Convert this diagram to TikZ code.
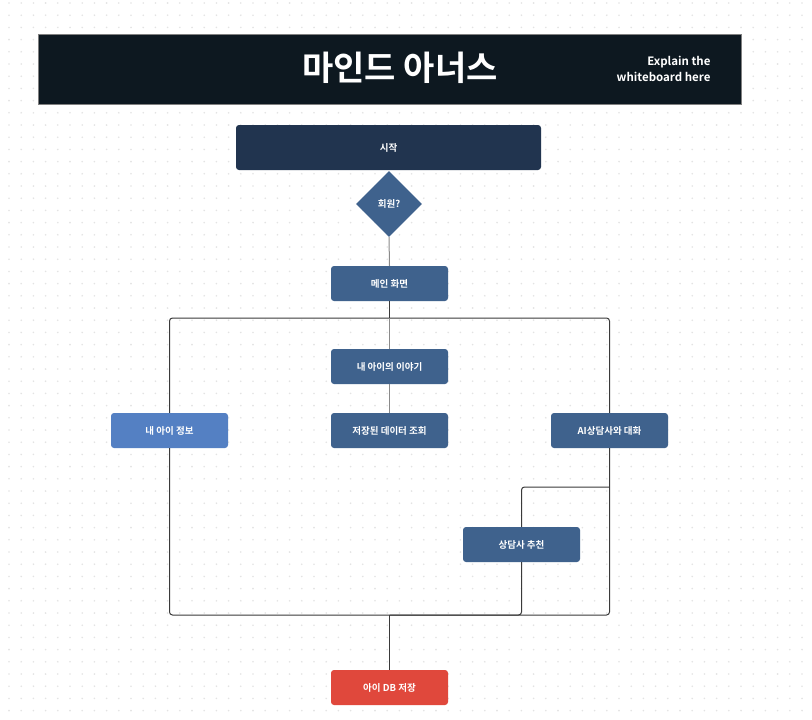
\documentclass[tikz,border=0pt]{standalone}
\usepackage{fontspec}
\setmainfont{Noto Sans CJK KR}[BoldFont={Noto Sans CJK KR Bold}]
\usetikzlibrary{shapes.geometric}
\definecolor{hdr}{HTML}{0D1820}
\definecolor{startc}{HTML}{21344F}
\definecolor{bluec}{HTML}{3F628D}
\definecolor{lightb}{HTML}{5480C3}
\definecolor{redc}{HTML}{E0483C}
\definecolor{dotc}{HTML}{E3E3E3}
\definecolor{linec}{HTML}{3A3A3A}
\definecolor{greyl}{HTML}{8A8A8A}
\tikzset{
  boxn/.style={rectangle, rounded corners=3pt, minimum width=117pt, minimum height=35pt,
    text=white, font=\bfseries\fontsize{9.5}{11}\selectfont, inner sep=0pt, fill=bluec},
  conn/.style={draw=linec, line width=1pt, rounded corners=3pt},
  connl/.style={draw=greyl, line width=1pt}
}
\begin{document}
\begin{tikzpicture}[x=1pt,y=-1pt]
\useasboundingbox (0,0) rectangle (812,720);
\fill[white] (0,0) rectangle (812,720);
\foreach \i in {0,...,66}{
  \foreach \j in {0,...,58}{
    \fill[dotc] (9+\i*12.2, 3+\j*12.2) circle (0.9pt);
  }
}
% header
\node[draw=gray, line width=0.8pt, fill=hdr, minimum width=703pt, minimum height=70pt, inner sep=0pt] (hdrbox) at (389.5,69) {};
\node[text=white, font=\bfseries\fontsize{34}{38}\selectfont] (title) at (400,68) {마인드 아너스};
\node[text=white, align=right, anchor=east, font=\bfseries\fontsize{11.5}{16}\selectfont] (expl) at (714,69) {Explain the\\whiteboard here};
% nodes
\node[boxn, fill=startc, minimum width=305pt, minimum height=45pt] (start) at (388.5,147.5) {시작};
\node[diamond, fill=bluec, minimum width=66pt, minimum height=66pt, inner sep=0pt, text=white, font=\bfseries\fontsize{9.5}{11}\selectfont] (member) at (389,204) {회원?};
\node[boxn] (main) at (389.5,283.5) {메인 화면};
\node[boxn] (story) at (389.5,366.5) {내 아이의 이야기};
\node[boxn, fill=lightb] (info) at (169.5,430.5) {내 아이 정보};
\node[boxn] (query) at (389.5,430.5) {저장된 데이터 조회};
\node[boxn] (ai) at (609.5,430.5) {AI상담사와 대화};
\node[boxn] (rec) at (521.5,544.5) {상담사 추천};
\node[boxn, fill=redc] (db) at (389.5,687.5) {아이 DB 저장};
% junctions
\coordinate (s1) at (389.5,318);
\coordinate (m1) at (389.5,615);
\coordinate (b1) at (609.5,487);
% connectors
\draw[connl] (member.south) -- (main.north);
\draw[conn] (main.south) -- (s1);
\draw[conn] (s1) -| (info.north);
\draw[conn] (s1) -| (ai.north);
\draw[connl] (s1) -- (story.north);
\draw[connl] (story.south) -- (query.north);
\draw[conn] (info.south) |- (m1);
\draw[conn] (ai.south) |- (m1);
\draw[conn] (b1) -| (rec.north);
\draw[conn] (rec.south) |- (m1);
\draw[conn, line width=1.4pt] (m1) -- (db.north);
\end{tikzpicture}
\end{document}
